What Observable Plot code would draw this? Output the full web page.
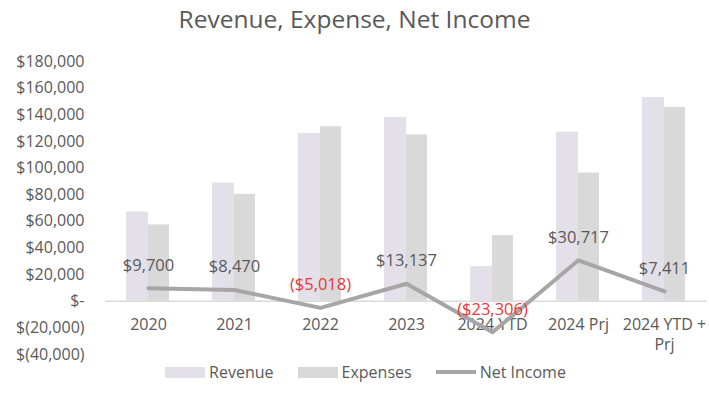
<!DOCTYPE html>
<html>
<head>
<meta charset="utf-8">
<script src="https://cdn.jsdelivr.net/npm/d3@7"></script>
<script src="https://cdn.jsdelivr.net/npm/@observablehq/plot@0.6"></script>
<style>
  html, body { margin: 0; padding: 0; background: #fff; }
  body { width: 709px; height: 411px; overflow: hidden; font-family: "Open Sans", sans-serif; color: #595959; }
  #title { height: 40px; line-height: 38px; text-align: center; font-size: 24.5px; color: #595959; }
  #legend { display: flex; justify-content: center; align-items: center; font-size: 16px; color: #595959; height: 24px; padding-left: 22px; }
  .item { display: flex; align-items: center; margin: 0 12px; }
  .sw { width: 40px; height: 11px; margin-right: 4px; }
  .ln { width: 40px; height: 4px; margin-right: 4px; background: #a6a6a6; }
</style>
</head>
<body>
<div id="title">Revenue, Expense, Net Income</div>
<div id="chart"></div>
<div id="legend">
  <div class="item"><div class="sw" style="background:#e4e0ea"></div>Revenue</div>
  <div class="item"><div class="sw" style="background:#d9d9d9"></div>Expenses</div>
  <div class="item"><div class="ln"></div>Net Income</div>
</div>
<script>
const categories = ["2020", "2021", "2022", "2023", "2024 YTD", "2024 Prj", "2024 YTD + Prj"];
const categoryLabels = ["2020", "2021", "2022", "2023", "2024 YTD", "2024 Prj", "2024 YTD +\nPrj"];
const revenue = [67000, 88700, 126000, 138000, 26000, 127000, 153000];
const expenses = [57300, 80230, 131018, 124863, 49306, 96283, 145589];
const netIncome = [9700, 8470, -5018, 13137, -23306, 30717, 7411];
const netLabels = ["$9,700", "$8,470", "($5,018)", "$13,137", "($23,306)", "$30,717", "$7,411"];
const yTicks = [-40000, -20000, 0, 20000, 40000, 60000, 80000, 100000, 120000, 140000, 160000, 180000];

const rows = categories.map((c, i) => ({
  cat: c, label: categoryLabels[i], rev: revenue[i], exp: expenses[i], net: netIncome[i], netLabel: netLabels[i]
}));

const fmt = v => v === 0 ? "$-" : v < 0 ? "$(" + d3.format(",")(-v) + ")" : "$" + d3.format(",")(v);

const chart = Plot.plot({
  width: 709,
  height: 320,
  marginLeft: 105,
  marginRight: 2,
  marginTop: 21,
  marginBottom: 6,
  style: { fontFamily: "Open Sans, sans-serif", color: "#595959", background: "transparent", overflow: "visible" },
  x: { domain: categories, padding: 0, axis: null },
  y: { domain: [-40000, 180000], ticks: yTicks, tickFormat: fmt, tickSize: 0, tickPadding: 21, label: null },
  marks: [
    Plot.axisY({ ticks: yTicks, tickFormat: fmt, tickSize: 0, tickPadding: 21, fontSize: 16, fill: "#595959", label: null }),
    Plot.barY(rows, { x: "cat", y: "rev", fill: "#e4e0ea", insetLeft: 21, insetRight: 43 }),
    Plot.barY(rows, { x: "cat", y: "exp", fill: "#d9d9d9", insetLeft: 43, insetRight: 22 }),
    Plot.ruleY([0], { stroke: "#d9d9d9", strokeWidth: 1.5 }),
    Plot.text(rows, { x: "cat", y: () => 0, text: "label", lineAnchor: "top", dy: 15, lineHeight: 1.25, fontSize: 16, fill: "#595959" }),
    Plot.line(rows, { x: "cat", y: "net", stroke: "#a6a6a6", strokeWidth: 4 }),
    Plot.text(rows, { x: "cat", y: "net", text: "netLabel", dy: -23, fontSize: 16.5, fill: d => d.net < 0 ? "#e8383a" : "#595959" })
  ]
});
document.getElementById("chart").appendChild(chart);
</script>
</body>
</html>
